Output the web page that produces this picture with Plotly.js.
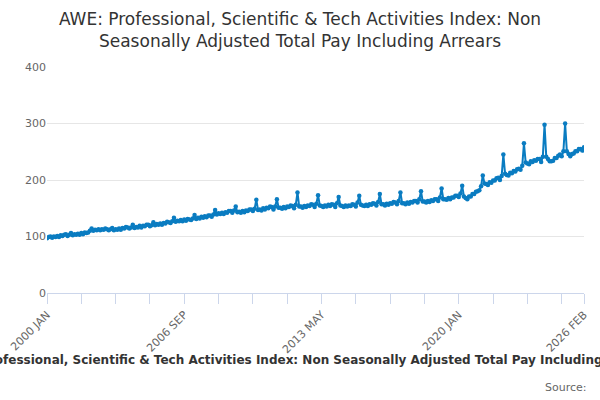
<!DOCTYPE html>
<html><head><meta charset="utf-8">
<script src="https://cdn.plot.ly/plotly-3.0.1.min.js"></script>
<style>body{margin:0}#c{width:600px;height:400px}</style></head>
<body><div id="c"></div>
<script>
const startYear = 2000;
const monthNames = ["JAN","FEB","MAR","APR","MAY","JUN","JUL","AUG","SEP","OCT","NOV","DEC"];
const v2000=[97,99,100,98,100,99,101,99,102,101,103,104];
const v2001=[101,103,106,102,104,103,105,103,106,104,107,106];
const v2002=[107,110,114,110,112,111,113,111,113,112,114,113];
const v2003=[111,113,115,111,113,112,114,112,115,114,117,116];
const v2004=[114,116,121,115,117,116,119,116,119,118,121,121];
const v2005=[118,120,125,120,122,121,123,121,124,123,126,125];
const v2006=[124,127,133,126,128,127,129,127,130,128,131,130];
const v2007=[129,132,138,131,133,132,135,133,136,134,137,137];
const v2008=[135,139,147,139,141,140,142,140,143,142,145,145];
const v2009=[142,146,153,143,144,142,145,143,146,145,148,148];
const v2010=[145,149,165,147,148,146,150,148,151,150,153,152];
const v2011=[148,153,166,151,151,149,152,150,153,152,155,154];
const v2012=[150,156,178,153,153,151,154,152,155,154,157,156];
const v2013=[152,158,173,155,154,152,155,153,156,154,157,156];
const v2014=[152,159,170,155,154,152,155,153,155,154,157,156];
const v2015=[153,160,172,156,155,154,156,154,157,156,159,158];
const v2016=[155,161,175,157,157,155,158,156,159,158,161,160];
const v2017=[157,163,178,159,159,157,160,158,161,160,163,163];
const v2018=[160,166,180,162,162,160,163,161,164,163,166,166];
const v2019=[163,169,185,166,166,165,168,166,169,169,172,172];
const v2020=[170,176,190,171,168,166,171,171,175,175,179,180];
const v2021=[182,189,208,194,193,191,196,195,199,199,203,204];
const v2022=[200,207,245,211,209,208,213,212,216,215,219,220];
const v2023=[218,225,265,231,229,228,233,232,235,234,237,237];
const v2024=[232,241,298,241,237,233,233,234,239,239,243,245];
const v2025=[242,251,300,251,246,242,246,247,251,251,255,255];
const v2026=[252,258];
const values=[].concat(v2000,v2001,v2002,v2003,v2004,v2005,v2006,v2007,v2008,v2009,v2010,v2011,v2012,v2013,v2014,v2015,v2016,v2017,v2018,v2019,v2020,v2021,v2022,v2023,v2024,v2025,v2026);
const categories=values.map((_,i)=>(startYear+Math.floor(i/12))+" "+monthNames[i%12]);
const tickIdx=[0,20,40,60,80,100,120,140,160,180,200,220,240,260,280,300,313];
const labeledIdx=[0,80,160,240,313];
Plotly.newPlot('c',[{
  x:categories.map((_,i)=>i), y:values, type:'scatter', mode:'lines+markers',
  line:{color:'#0a7cc1',width:2}, marker:{color:'#0a7cc1',size:4.5},
  text:categories, hoverinfo:'text+y'
}],{
  width:600,height:400,
  margin:{l:47,r:16,t:67,b:107},
  font:{family:'DejaVu Sans, sans-serif'},
  paper_bgcolor:'#fff',plot_bgcolor:'#fff',
  title:{text:'AWE: Professional, Scientific & Tech Activities Index: Non<br>Seasonally Adjusted Total Pay Including Arrears',font:{size:17,color:'#333'},x:0.5,y:0.9375,yanchor:'top'},
  xaxis:{range:[0,313],tickmode:'array',tickvals:tickIdx,
    ticktext:tickIdx.map(i=>labeledIdx.includes(i)?categories[i]:''),
    tickangle:-45,ticks:'outside',ticklen:10,tickcolor:'#ccd6eb',
    showline:true,linecolor:'#ccd6eb',showgrid:false,zeroline:false,
    tickfont:{size:11,color:'#666'}},
  yaxis:{range:[0,400],tickvals:[0,100,200,300,400],gridcolor:'#e6e6e6',zeroline:false,
    tickfont:{size:11,color:'#666'},ticks:'',ticklen:0},
  annotations:[
    {text:'<b>AWE: Professional, Scientific & Tech Activities Index: Non Seasonally Adjusted Total Pay Including Arrears</b>',xref:'paper',yref:'paper',x:0.47,y:-0.296,xanchor:'center',yanchor:'middle',showarrow:false,font:{size:12,color:'#333'}},
    {text:'Source:',xref:'paper',yref:'paper',x:1.01,y:-0.42,xanchor:'right',yanchor:'middle',showarrow:false,font:{size:11,color:'#666'}}],
  showlegend:false
},{displayModeBar:false});
</script></body></html>
